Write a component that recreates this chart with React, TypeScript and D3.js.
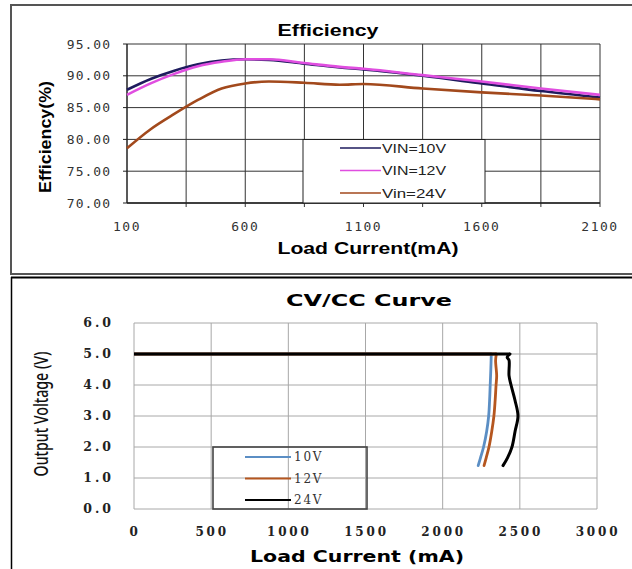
import React from "react";
import * as d3 from "d3";

// ---------- Efficiency chart data ----------
const effCurrent = [100, 200, 300, 400, 500, 600, 700, 850, 1000, 1100, 1350, 1600, 1850, 2100];
const effVin10 = [87.8, 89.5, 90.8, 91.8, 92.4, 92.6, 92.5, 91.9, 91.3, 91.0, 90.0, 88.8, 87.6, 86.6];
const effVin12 = [87.0, 88.8, 90.3, 91.5, 92.2, 92.6, 92.6, 92.0, 91.4, 91.1, 90.1, 89.1, 88.0, 87.0];
const effVin24 = [78.6, 81.6, 84.0, 86.2, 88.0, 88.8, 89.1, 88.9, 88.6, 88.7, 88.0, 87.4, 86.9, 86.3];
const effYTicks = [70, 75, 80, 85, 90, 95];
const effXTicks = [100, 600, 1100, 1600, 2100];
const effXGrid = [350, 600, 850, 1100, 1350, 1600, 1850, 2100];
const effSeriesNames = ["VIN=10V", "VIN=12V", "Vin=24V"];

// ---------- CV/CC chart data ----------
const cv10I = [0, 2315, 2312, 2308, 2304, 2298, 2285, 2265, 2245, 2230];
const cv10V = [5.0, 5.0, 4.5, 4.0, 3.5, 3.0, 2.5, 2.0, 1.65, 1.4];
const cv12I = [0, 2348, 2343, 2350, 2346, 2340, 2332, 2318, 2300, 2282, 2268];
const cv12V = [5.0, 5.0, 4.8, 4.3, 4.0, 3.5, 3.0, 2.5, 2.0, 1.65, 1.4];
const cv24I = [0, 2436, 2418, 2430, 2430, 2443, 2469, 2488, 2469, 2449, 2420, 2391];
const cv24V = [5.0, 5.0, 4.9, 4.8, 4.3, 4.0, 3.5, 3.0, 2.5, 2.0, 1.65, 1.4];
const cvYTicks = [0, 1, 2, 3, 4, 5, 6];
const cvXTicks = [0, 500, 1000, 1500, 2000, 2500, 3000];
const cvSeriesNames = ["10V", "12V", "24V"];

const effColors = ["#1e1b5e", "#e04ee0", "#a2491c"];
const cvColors = ["#5b8ec4", "#b5561f", "#000000"];

export default function App() {
  const xE = d3.scaleLinear().domain([100, 2100]).range([127, 600]);
  const yE = d3.scaleLinear().domain([70, 95]).range([203, 44]);
  const lineE = d3
    .line<[number, number]>()
    .x((d) => xE(d[0]))
    .y((d) => yE(d[1]))
    .curve(d3.curveMonotoneX);
  const effSeries = [effVin10, effVin12, effVin24].map((vals) =>
    effCurrent.map((c, i) => [c, vals[i]] as [number, number])
  );

  const xC = d3.scaleLinear().domain([0, 3000]).range([134, 597]);
  const yC = d3.scaleLinear().domain([0, 6]).range([509, 323]);
  const lineCLinear = d3
    .line<[number, number]>()
    .x((d) => xC(d[0]))
    .y((d) => yC(d[1]));
  const lineCCurve = d3
    .line<[number, number]>()
    .x((d) => xC(d[0]))
    .y((d) => yC(d[1]))
    .curve(d3.curveCatmullRom.alpha(0.5));
  const cvSeries = [
    [cv10I, cv10V],
    [cv12I, cv12V],
    [cv24I, cv24V],
  ].map(([I, V]) => I.map((c, i) => [c, V[i]] as [number, number]));

  const monoFont = "'DejaVu Sans Mono', 'Liberation Mono', monospace";
  const sansFont = "Arial, 'Liberation Sans', sans-serif";
  const serifFont = "'DejaVu Serif', 'Liberation Serif', serif";
  const boldSans = "'DejaVu Sans', Verdana, sans-serif";

  return (
    <svg
      width={632}
      height={569}
      style={{ position: "absolute", left: 0, top: 0, background: "#fff" }}
    >
      <rect x={0} y={0} width={632} height={569} fill="#fff" />
      <rect x={11} y={5} width={640} height={269} fill="none" stroke="#555" strokeWidth={2} />
      <line x1={11} x2={632} y1={277.5} y2={277.5} stroke="#000" strokeWidth={2} />
      <line x1={11.5} x2={11.5} y1={277} y2={569} stroke="#000" strokeWidth={1.5} />

      {/* ================= Efficiency chart ================= */}
      <text
        x={328}
        y={36}
        textAnchor="middle"
        fontFamily={sansFont}
        fontWeight="bold"
        fontSize={16.5}
        textLength={101}
        lengthAdjust="spacingAndGlyphs"
      >
        Efficiency
      </text>
      {effYTicks.map((t) => (
        <line key={"eh" + t} x1={xE(100)} x2={xE(2100)} y1={yE(t)} y2={yE(t)} stroke="#333" strokeWidth={1} />
      ))}
      {effXGrid.map((t) => (
        <line key={"ev" + t} x1={xE(t)} x2={xE(t)} y1={yE(95)} y2={yE(70) + 4} stroke="#333" strokeWidth={1} />
      ))}
      <line x1={xE(100)} x2={xE(100)} y1={yE(95)} y2={yE(70)} stroke="#222" strokeWidth={1.5} />
      <line x1={xE(100)} x2={xE(2100)} y1={yE(70)} y2={yE(70)} stroke="#222" strokeWidth={1.5} />
      {effYTicks.map((t) => (
        <line key={"eyt" + t} x1={xE(100) - 4} x2={xE(100)} y1={yE(t)} y2={yE(t)} stroke="#222" strokeWidth={1} />
      ))}
      {effYTicks.map((t) => (
        <text
          key={"eyl" + t}
          x={111}
          y={yE(t)}
          dy="0.35em"
          textAnchor="end"
          fontFamily={monoFont}
          fontSize={13}
          letterSpacing={1}
          fill="#333"
        >
          {t.toFixed(2)}
        </text>
      ))}
      {effXTicks.map((t) => (
        <text
          key={"exl" + t}
          x={xE(t)}
          y={226}
          dy="0.35em"
          textAnchor="middle"
          fontFamily={monoFont}
          fontSize={13}
          letterSpacing={1.5}
          fill="#333"
        >
          {t}
        </text>
      ))}
      <text
        transform={`translate(51,137) rotate(-90)`}
        textAnchor="middle"
        fontFamily={sansFont}
        fontWeight="bold"
        fontSize={17}
        textLength={112}
        lengthAdjust="spacingAndGlyphs"
      >
        Efficiency(%)
      </text>
      <text
        x={368}
        y={254}
        textAnchor="middle"
        fontFamily={sansFont}
        fontWeight="bold"
        fontSize={16.5}
        textLength={181}
        lengthAdjust="spacingAndGlyphs"
      >
        Load Current(mA)
      </text>

      <rect x={303} y={139.5} width={182} height={63.5} fill="#fff" stroke="#222" strokeWidth={1} />
      {effSeriesNames.map((name, i) => {
        const ly = 148 + i * 22.5;
        return (
          <g key={"el" + name}>
            <line x1={340} x2={381} y1={ly} y2={ly} stroke={effColors[i]} strokeWidth={1.6} />
            <text
              x={382}
              y={ly}
              dy="0.36em"
              fontFamily={sansFont}
              fontSize={13}
              textLength={64}
              lengthAdjust="spacingAndGlyphs"
              fill="#222"
            >
              {name}
            </text>
          </g>
        );
      })}

      {effSeries.map((s, i) => (
        <path key={"es" + i} d={lineE(s) || ""} fill="none" stroke={effColors[i]} strokeWidth={2.6} />
      ))}

      {/* ================= CV/CC chart ================= */}
      <text
        x={369}
        y={306}
        textAnchor="middle"
        fontFamily={boldSans}
        fontWeight="bold"
        fontSize={16}
        textLength={166}
        lengthAdjust="spacingAndGlyphs"
      >
        CV/CC Curve
      </text>
      {cvYTicks.map((t) => (
        <line key={"ch" + t} x1={xC(0)} x2={xC(3000)} y1={yC(t)} y2={yC(t)} stroke="#a8a8a8" strokeWidth={1} />
      ))}
      {cvXTicks.map((t) => (
        <line key={"cv" + t} x1={xC(t)} x2={xC(t)} y1={yC(6)} y2={yC(0)} stroke="#a8a8a8" strokeWidth={1} />
      ))}
      {cvYTicks.map((t) => (
        <text
          key={"cyl" + t}
          x={114}
          y={yC(t)}
          dy="0.35em"
          textAnchor="end"
          fontFamily={serifFont}
          fontWeight="bold"
          fontSize={12.5}
          letterSpacing={3}
          fill="#222"
        >
          {t.toFixed(1)}
        </text>
      ))}
      {cvXTicks.map((t) => (
        <text
          key={"cxl" + t}
          x={xC(t) + 1}
          y={532}
          dy="0.35em"
          textAnchor="middle"
          fontFamily={serifFont}
          fontWeight="bold"
          fontSize={12}
          letterSpacing={2.8}
          fill="#222"
        >
          {t}
        </text>
      ))}
      <text
        transform={`translate(48,414) rotate(-90)`}
        textAnchor="middle"
        fontFamily="'Liberation Sans Narrow', 'Arial Narrow', 'Noto Sans', sans-serif"
        fontSize={20}
        fontWeight={500}
        textLength={125}
        lengthAdjust="spacingAndGlyphs"
        fill="#111"
      >
        Output Voltage (V)
      </text>
      <text
        x={357}
        y={562}
        textAnchor="middle"
        fontFamily={boldSans}
        fontWeight="bold"
        fontSize={15}
        textLength={214}
        lengthAdjust="spacingAndGlyphs"
      >
        Load Current (mA)
      </text>

      <rect x={213} y={447} width={154} height={62} fill="none" stroke="#444" strokeWidth={1.6} />
      {cvSeriesNames.map((name, i) => {
        const ly = 457 + i * 21.5;
        return (
          <g key={"cl" + name}>
            <line x1={245} x2={291} y1={ly} y2={ly} stroke={cvColors[i]} strokeWidth={2} />
            <text
              x={294}
              y={ly}
              dy="0.36em"
              fontFamily={serifFont}
              fontSize={12}
              letterSpacing={1.8}
              fill="#333"
            >
              {name}
            </text>
          </g>
        );
      })}

      {cvSeries.map((s, i) => (
        <g key={"cs" + i}>
          <path
            d={lineCLinear(s.slice(0, 2)) || ""}
            fill="none"
            stroke={cvColors[i]}
            strokeWidth={i === 2 ? 3 : 2.8}
          />
          <path
            d={lineCCurve(s.slice(1)) || ""}
            fill="none"
            stroke={cvColors[i]}
            strokeWidth={i === 2 ? 3 : 2.8}
            strokeLinejoin="round"
            strokeLinecap="round"
          />
        </g>
      ))}
    </svg>
  );
}
